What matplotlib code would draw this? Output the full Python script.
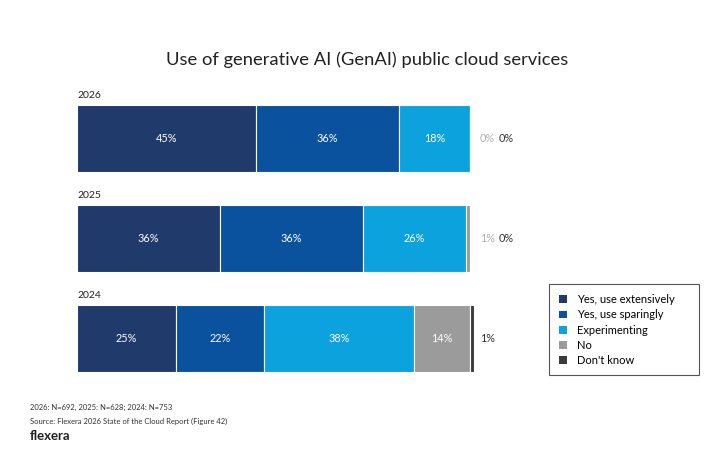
import matplotlib.pyplot as plt
from matplotlib.patches import Patch, Rectangle
import numpy as np

plt.rcParams['font.family'] = ['Lato', 'DejaVu Sans']

# data
years = ['2026', '2025', '2024']
categories = ['Yes, use extensively', 'Yes, use sparingly', 'Experimenting', 'No', "Don't know"]
extensively = [45, 36, 25]
sparingly = [36, 36, 22]
experimenting = [18, 26, 38]
no = [0, 1, 14]
dont_know = [0, 0, 1]

colors = ['#1f3a6b', '#0b529e', '#0ba2dd', '#9b9b9b', '#3b3b3b']
series = [extensively, sparingly, experimenting, no, dont_know]

fig = plt.figure(figsize=(7.18, 4.72), dpi=100)
scale = 3.97  # px per percent
ax = fig.add_axes([77 / 718, 1 - 388.5 / 472, 100 * scale / 718, 300 / 472])

y = np.arange(len(years))
left = np.zeros(len(years))
for vals, col in zip(series, colors):
    ax.barh(y, vals, left=left, height=0.67, color=col, edgecolor='white', linewidth=0.8)
    left += np.array(vals)

# labels inside the big segments
for i in range(len(years)):
    start = 0
    for k in range(3):
        v = series[k][i]
        ax.text(start + v / 2, i, f'{v}%', ha='center', va='center', color='white', fontsize=7.8)
        start += v
    if no[i] >= 5:
        ax.text(start + no[i] / 2, i, f'{no[i]}%', ha='center', va='center', color='white', fontsize=7.8)
        ax.text(101.5, i, f'{dont_know[i]}%', ha='left', va='center', color='#333333', fontsize=7.8)
    else:
        ax.text(101.5, i, f'{no[i]}%', ha='left', va='center', color='#b0b0b0', fontsize=7.8)
        ax.text(106.1, i, f'{dont_know[i]}%', ha='left', va='center', color='#333333', fontsize=7.8)
    ax.text(0, i - 0.425, years[i], ha='left', va='center', color='#222222', fontsize=7.5)

ax.set_xlim(0, 100)
ax.set_ylim(2.5, -0.5)
ax.axis('off')

fig.text(367 / 718, 1 - 60 / 472, 'Use of generative AI (GenAI) public cloud services',
         ha='center', va='center', fontsize=13.2, color='#222222')

# legend with a hand-drawn frame
handles = [Patch(facecolor=c, edgecolor='none') for c in colors]
fig.legend(handles, categories, loc='upper left', bbox_to_anchor=(557 / 718, 1 - 292 / 472),
           borderaxespad=0, fontsize=8, frameon=False,
           handlelength=0.7, handleheight=0.7, handletextpad=0.9,
           labelspacing=0.38, borderpad=0.2)
fig.patches.append(Rectangle((549 / 718, 1 - 375 / 472), 150 / 718, 91 / 472,
                             transform=fig.transFigure, fill=False,
                             edgecolor='#555555', linewidth=0.8))

fig.text(30 / 718, 1 - 407 / 472, '2026: N=692, 2025: N=628; 2024: N=753',
         ha='left', va='center', fontsize=5.5, color='#333333')
fig.text(30 / 718, 1 - 421 / 472, 'Source: Flexera 2026 State of the Cloud Report (Figure 42)',
         ha='left', va='center', fontsize=5.5, color='#333333')
fig.text(30 / 718, 1 - 436 / 472, 'flexera', ha='left', va='center', fontsize=9.5,
         fontweight='bold', color='#222222')

fig.savefig('out.png', dpi=100, facecolor='white')
